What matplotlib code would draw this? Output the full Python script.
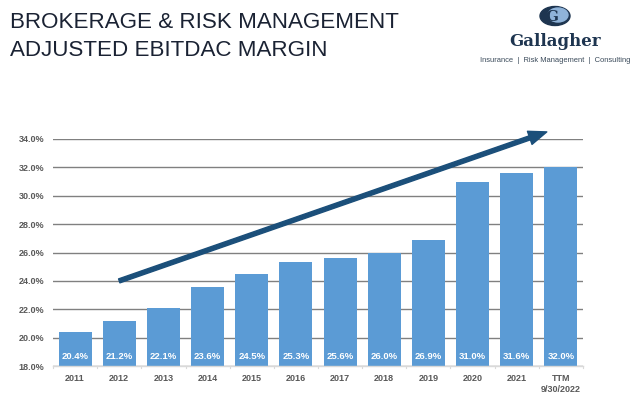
import matplotlib
matplotlib.use("Agg")
import matplotlib.pyplot as plt
from matplotlib.patches import Ellipse

categories = ["2011", "2012", "2013", "2014", "2015", "2016", "2017", "2018",
              "2019", "2020", "2021", "TTM\n9/30/2022"]
values = [20.4, 21.2, 22.1, 23.6, 24.5, 25.3, 25.6, 26.0, 26.9, 31.0, 31.6, 32.0]
yticks = [18, 20, 22, 24, 26, 28, 30, 32, 34]
arrow_start = (1, 24.0)
arrow_end = (10.68, 34.5)

plt.rcParams['font.family'] = ['Liberation Sans', 'DejaVu Sans']

fig = plt.figure(figsize=(6.4, 4.03), dpi=100)
W, H = 640, 403
ax = fig.add_axes([53 / W, 1 - 366 / H, 530 / W, 227 / H])

x = list(range(len(categories)))
ax.bar(x, values, width=0.75, color="#5B9BD5", zorder=3)
ax.set_ylim(18, 34)
ax.set_xlim(-0.5, len(categories) - 0.5)
ax.set_yticks(yticks)
ax.set_yticklabels([f"{v:.1f}%" for v in yticks], fontsize=6.5, fontweight="bold", color="#595959")
ax.set_xticks(x)
ax.set_xticklabels(categories, fontsize=6.5, fontweight="bold", color="#595959", linespacing=1.3)
ax.tick_params(axis="y", length=0, pad=6)
ax.tick_params(axis="x", length=0, pad=6)
ax.grid(axis="y", color="#808080", linewidth=1.0, zorder=0)
for s in ["top", "right", "left"]:
    ax.spines[s].set_visible(False)
ax.spines["bottom"].set_color("#d9d9d9")
ax.spines["bottom"].set_linewidth(1.0)
ax.spines["bottom"].set_zorder(4)
for i in range(len(categories) + 1):
    ax.plot([i - 0.5, i - 0.5], [18, 17.85], color="#d9d9d9", lw=0.8, clip_on=False)

for xi, v in zip(x, values):
    ax.text(xi, 18.65, f"{v:.1f}%", ha="center", va="center", color="white",
            fontsize=6.8, fontweight="bold", zorder=5)

ax.annotate("", xy=arrow_end, xytext=arrow_start,
            arrowprops=dict(width=3.0, headwidth=10, headlength=13, color="#1B4F7A",
                            shrink=0),
            annotation_clip=False, zorder=6)

# Title
fig.text(10 / W, 1 - 23 / H, "BROKERAGE & RISK MANAGEMENT", fontsize=16.1, color="#1a2233",
         va="center", ha="left")
fig.text(10 / W, 1 - 50 / H, "ADJUSTED EBITDAC MARGIN", fontsize=16.1, color="#1a2233",
         va="center", ha="left")

# Logo
lax = fig.add_axes([0, 0, 1, 1], facecolor="none")
lax.set_xlim(0, W)
lax.set_ylim(H, 0)
lax.axis("off")
lax.add_patch(Ellipse((555, 16), 30, 19, color="#1e3550"))
lax.add_patch(Ellipse((558, 15), 20, 14, color="#8fb3d9"))
lax.text(552, 17, "G", fontsize=11, fontweight="bold", family="DejaVu Serif", color="#1e3550",
         ha="center", va="center")
lax.text(555, 41, "Gallagher", fontsize=12, fontweight="bold", family="DejaVu Serif",
         color="#1e3550", ha="center", va="center")
lax.text(555, 61, "Insurance  |  Risk Management  |  Consulting", fontsize=5.4,
         color="#3a4a5a", ha="center", va="center")

fig.savefig("out.png", dpi=100)
